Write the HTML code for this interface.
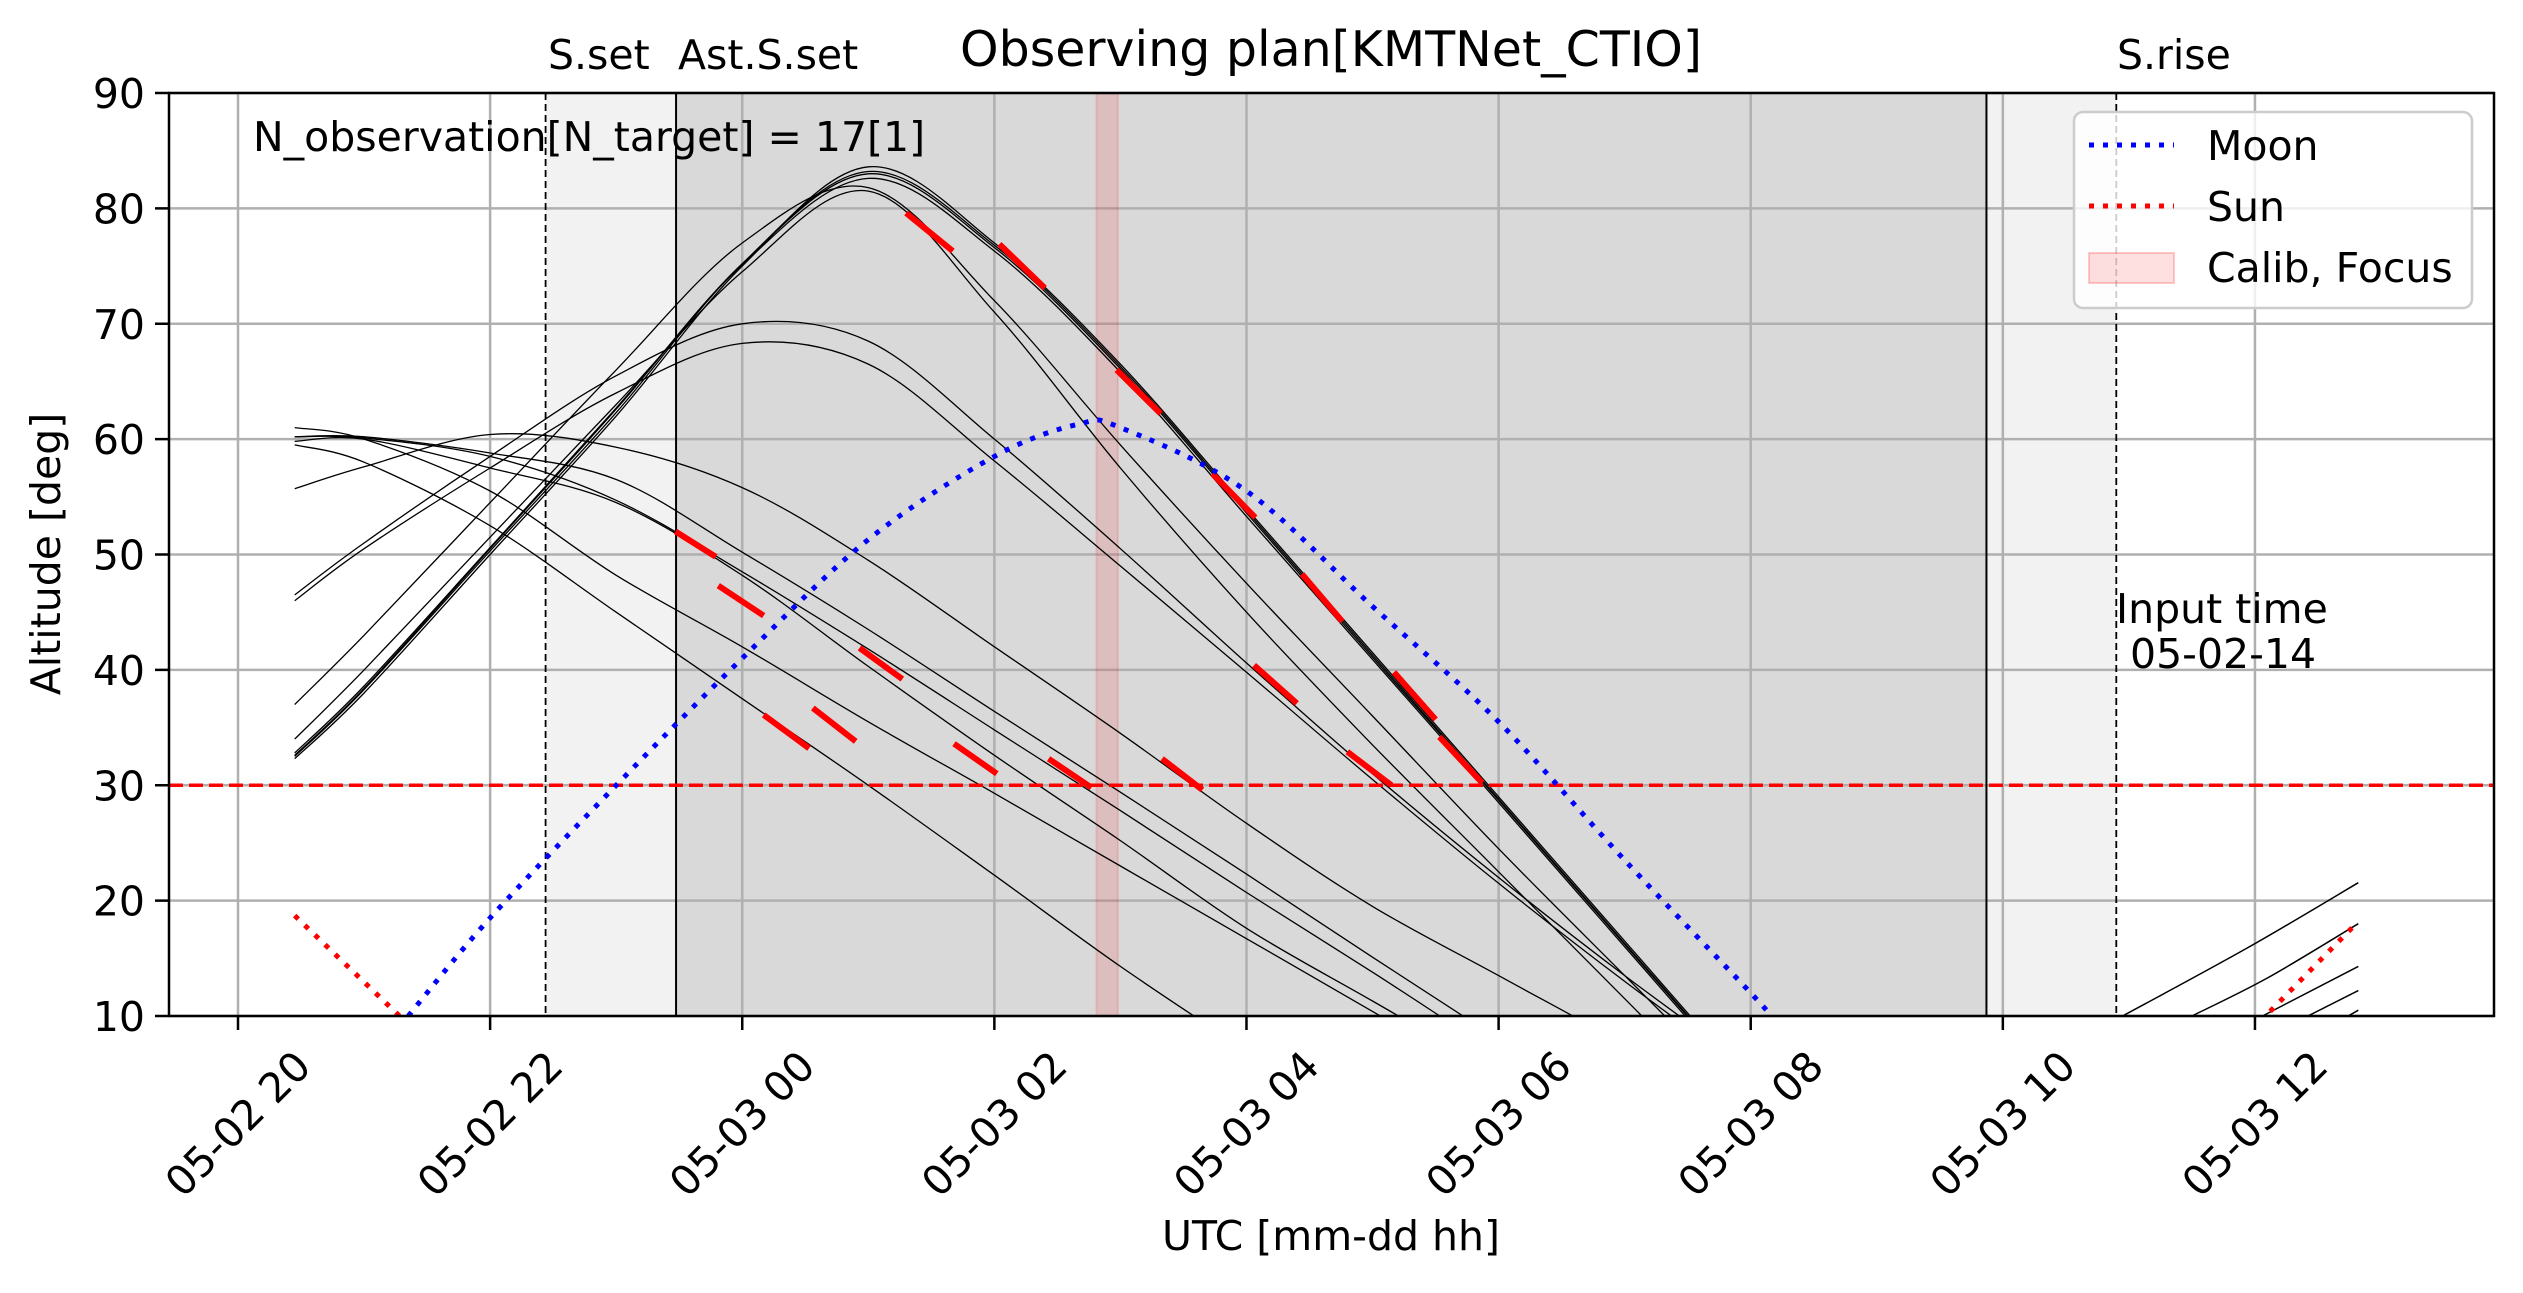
<!DOCTYPE html>
<html><head><meta charset="utf-8"><style>
html,body{margin:0;padding:0;background:#fff;width:2523px;height:1293px;overflow:hidden}
svg{display:block}
text{font-family:"DejaVu Sans","Liberation Sans",sans-serif;fill:#000}
</style></head><body>
<svg id="chart" width="2523" height="1293" viewBox="0 0 2523 1293" xmlns="http://www.w3.org/2000/svg">
<defs><clipPath id="plotclip"><rect x="169" y="93" width="2325" height="923"/></clipPath></defs>
<rect x="0" y="0" width="2523" height="1293" fill="#fff"/>
<g id="shade"></g>
<g id="grid"></g>
<g id="marks" clip-path="url(#plotclip)"></g>
<rect x="169" y="93" width="2325" height="923" fill="none" stroke="#000" stroke-width="2.5"/>
<g id="ticks"></g>
<text x="1331" y="66" font-size="49" text-anchor="middle">Observing plan[KMTNet_CTIO]</text>
<text x="548" y="69" font-size="41">S.set</text>
<text x="678" y="69" font-size="41">Ast.S.set</text>
<text x="2117" y="69" font-size="41">S.rise</text>
<text x="253" y="151" font-size="41">N_observation[N_target] = 17[1]</text>
<text x="2116" y="623" font-size="41">Input time</text>
<text x="2130" y="668" font-size="41">05-02-14</text>
<text x="0" y="0" font-size="41" text-anchor="middle" transform="translate(60,554) rotate(-90)">Altitude [deg]</text>
<text x="1331" y="1250" font-size="41" text-anchor="middle">UTC [mm-dd hh]</text>
<g>
<rect x="2074" y="112" width="398" height="196" rx="9" fill="#fff" fill-opacity="0.8" stroke="#cccccc" stroke-width="2.5"/>
<line x1="2089" y1="145" x2="2174" y2="145" stroke="#0000ff" stroke-width="5" stroke-dasharray="5 9"/>
<text x="2207" y="160" font-size="41">Moon</text>
<line x1="2089" y1="206" x2="2174" y2="206" stroke="#ff0000" stroke-width="5" stroke-dasharray="5 9"/>
<text x="2207" y="221" font-size="41">Sun</text>
<rect x="2089" y="253" width="85" height="30" fill="#ff0000" fill-opacity="0.12" stroke="#ff0000" stroke-opacity="0.2" stroke-width="2"/>
<text x="2207" y="282" font-size="41">Calib, Focus</text>
</g>
</svg>
<script>
// ---- data (hours since 05-02 00 UTC, altitude in deg) ----
const xTickHours = [20,22,24,26,28,30,32,34,36];
const xTickLabels = ["05-02 20","05-02 22","05-03 00","05-03 02","05-03 04","05-03 06","05-03 08","05-03 10","05-03 12"];
const yTicks = [10,20,30,40,50,60,70,80,90];
const sunSet = 22.44, astSunSet = 23.475, astSunRise = 33.87, sunRise = 34.9;
const calibStart = 26.81, calibEnd = 26.98;
const altLimit = 30;
const targetTimes = [20.45,21,22,23,24,25,26,27,28,29,30,31,32];
const targetA1 = [32.3,38,50,62,75,83.6,77,66.5,54,41.5,29,16.5,4];
const targetA2 = [32.5,38.3,50.3,62.3,75.2,83.2,76.8,66.3,53.8,41.3,28.8,16.3,3.8];
const targetA3 = [32.6,38.4,50.5,62.6,75.2,83,76.6,66.1,53.6,41.1,28.7,16.2,3.7];
const targetA4 = [32.8,38.6,50.6,62.7,75.1,82.6,76.3,65.8,53.3,40.9,28.5,16,3.5];
const targetB1 = [37,43,54.5,66,77,81.8,72,59.5,47.5,36,24.5,13.5,2.5];
const targetB2 = [34,40,51.5,63,74.5,81.5,71,57.5,45,33.5,22.5,11.5,0.5];
const targetC1 = [46.5,51,58.5,65.5,70,68.5,60,50.5,40.6,31,22,13.5,5.5];
const targetC2 = [46,50.5,57.5,64,68.3,66.5,58.1,49,39.8,30.5,21.5,13,5];
const targetD1 = [60.2,60.2,58.8,56.5,50.2,43.5,36.4,29.4,22.3,15.1,8,1,-6];
const targetD2 = [60.2,60.1,58.5,54.7,48.5,41.8,34.8,27.8,20.7,13.8,6.7,0,-7];
const targetD3 = [59.8,60,57.5,54.5,48.2,40.3,32.6,25.2,17.6,11.3,5,-1,-7];
const targetD4 = [61,60,55.5,48.2,42,35.5,29.3,23,16.7,10.4,4,-2,-8];
const targetD5 = [59.5,58,52.5,45,37.5,30,22.2,14.3,7,0,-7,-14,-21];
const targetD6 = [55.7,57.6,60.4,59.3,55.8,49.5,42,34.5,26.7,19.5,13.5,7.5,1];
const nextTimesR1 = [34.95,35.94,36.82], nextAltR1 = [10,15.9,21.55];
const nextTimesR2 = [35.5,36.1,36.82], nextAltR2 = [10,13.3,18];
const nextTimesR3 = [36.06,36.82], nextAltR3 = [10,14.3];
const nextTimesR4 = [36.42,36.82], nextAltR4 = [10,12.2];
const nextTimesR5 = [36.74,36.82], nextAltR5 = [10,10.5];
const moonTimes = [21.35,22,23,24,25,26,26.67,27,28,29,30,31,32,32.2];
const moonAlt = [10,18.5,30,41,51.3,58.5,61.3,61,55.5,45.5,35.5,23.5,12,9.5];
const sunTimes1 = [20.45,21.3], sunAlt1 = [18.7,9.8];
const sunTimes2 = [36.12,36.82], sunAlt2 = [10.4,18.2];
const obsStartT = [23.47,23.81,24.17,24.56,24.93,25.3,25.68,26.04,26.43,26.97,27.33,27.73,28.06,28.44,28.8,29.17,29.53];
const obsStartAlt = [52,47.3,36.1,36.7,41.9,79.6,33.6,76.9,32.3,66,32.3,57,40.4,48.3,32.9,39.8,34.2];
const obsEndT = [23.79,24.17,24.53,24.9,25.27,25.67,26.02,26.4,26.77,27.32,27.65,28.07,28.4,28.76,29.15,29.5,29.87];
const obsEndAlt = [49.8,44.7,33.2,33.8,39.2,76.3,31,73.1,29.8,62.2,29.6,53.2,37.1,44.2,30,35.7,30.2];

// ---- axes ----
const X0 = 169, X1 = 2494, Y0 = 93, Y1 = 1016;
function xs(t){ return 238 + (t - 20) * 126.06; }
function ys(a){ return 1016 - (a - 10) * 11.5375; }
const NS = 'http://www.w3.org/2000/svg';
function mk(tag, attrs, parent){ const e = document.createElementNS(NS, tag); for (const k in attrs) e.setAttribute(k, attrs[k]); parent.appendChild(e); return e; }
function smooth(ts, as){
  const p = ts.map((t,i)=>[xs(t), ys(as[i])]);
  if (p.length < 3) return 'M' + p.map(q=>q[0].toFixed(1)+','+q[1].toFixed(1)).join(' L');
  let d = 'M' + p[0][0].toFixed(1) + ',' + p[0][1].toFixed(1);
  for (let i = 0; i < p.length - 1; i++){
    const a = p[Math.max(i-1,0)], b = p[i], c = p[i+1], e = p[Math.min(i+2,p.length-1)];
    const c1 = [b[0]+(c[0]-a[0])/6, b[1]+(c[1]-a[1])/6];
    const c2 = [c[0]-(e[0]-b[0])/6, c[1]-(e[1]-b[1])/6];
    d += ' C' + c1.map(v=>v.toFixed(1)).join(',') + ' ' + c2.map(v=>v.toFixed(1)).join(',') + ' ' + c.map(v=>v.toFixed(1)).join(',');
  }
  return d;
}
const shade = document.getElementById('shade');
const grid = document.getElementById('grid');
const marks = document.getElementById('marks');
const ticks = document.getElementById('ticks');

let r = mk('rect', {x:xs(sunSet), y:Y0, width:xs(sunRise)-xs(sunSet), height:Y1-Y0, fill:'#f2f2f2'}, shade);


r = mk('rect', {x:xs(astSunSet), y:Y0, width:xs(astSunRise)-xs(astSunSet), height:Y1-Y0, fill:'#d9d9d9'}, shade);



xTickHours.forEach((h,i)=>{
  const x = xs(h);
  let g = mk('line', {x1:x, y1:Y0, x2:x, y2:Y1, stroke:'#b0b0b0', 'stroke-width':2.5}, grid);
  
  
  let tk = mk('line', {x1:x, y1:Y1, x2:x, y2:Y1+14, stroke:'#000', 'stroke-width':2.5}, ticks);
  
  
  let tx = mk('text', {x:x, y:1124, 'font-size':41, 'text-anchor':'middle', 'dominant-baseline':'central', transform:'rotate(-45 '+x+' 1124)'}, ticks);
  tx.textContent = xTickLabels[i];
  
  
});
yTicks.forEach(v=>{
  const y = ys(v);
  let g = mk('line', {x1:X0, y1:y, x2:X1, y2:y, stroke:'#b0b0b0', 'stroke-width':2.5}, grid);
  
  
  let tk = mk('line', {x1:X0-14, y1:y, x2:X0, y2:y, stroke:'#000', 'stroke-width':2.5}, ticks);
  
  
  let tx = mk('text', {x:X0-24, y:y+15, 'font-size':41, 'text-anchor':'end'}, ticks);
  tx.textContent = v;
  
  
});

let c = mk('rect', {x:xs(calibStart), y:Y0, width:xs(calibEnd)-xs(calibStart), height:Y1-Y0, fill:'#ff0000', 'fill-opacity':0.12, stroke:'#ff0000', 'stroke-opacity':0.12, 'stroke-width':2}, marks);



let v = mk('line', {x1:xs(sunSet), y1:Y0, x2:xs(sunSet), y2:Y1, stroke:'#000', 'stroke-width':1.8, 'stroke-dasharray':'7 4'}, marks);


v = mk('line', {x1:xs(sunRise), y1:Y0, x2:xs(sunRise), y2:Y1, stroke:'#000', 'stroke-width':1.8, 'stroke-dasharray':'7 4'}, marks);


v = mk('line', {x1:xs(astSunSet), y1:Y0, x2:xs(astSunSet), y2:Y1, stroke:'#000', 'stroke-width':2}, marks);


v = mk('line', {x1:xs(astSunRise), y1:Y0, x2:xs(astSunRise), y2:Y1, stroke:'#000', 'stroke-width':2}, marks);



const targets = [targetA1,targetA2,targetA3,targetA4,targetB1,targetB2,targetC1,targetC2,targetD1,targetD2,targetD3,targetD4,targetD5,targetD6];
targets.forEach(arr=>{
  const p = mk('path', {d:smooth(targetTimes, arr), fill:'none', stroke:'#000', 'stroke-width':1.3}, marks);
  
  
});
[[nextTimesR1,nextAltR1],[nextTimesR2,nextAltR2],[nextTimesR3,nextAltR3],[nextTimesR4,nextAltR4],[nextTimesR5,nextAltR5]].forEach(pair=>{
  const p = mk('path', {d:smooth(pair[0], pair[1]), fill:'none', stroke:'#000', 'stroke-width':1.5}, marks);
  
  
});

let lim = mk('line', {x1:X0, y1:ys(altLimit), x2:X1, y2:ys(altLimit), stroke:'#ff0000', 'stroke-width':3.5, 'stroke-dasharray':'14 6'}, marks);



obsStartT.forEach((t,i)=>{
  const s = mk('line', {x1:xs(t), y1:ys(obsStartAlt[i]), x2:xs(obsEndT[i]), y2:ys(obsEndAlt[i]), stroke:'#ff0000', 'stroke-width':6}, marks);
  
  
});

let m = mk('path', {d:smooth(moonTimes, moonAlt), fill:'none', stroke:'#0000ff', 'stroke-width':5, 'stroke-dasharray':'5 9'}, marks);


let s1 = mk('path', {d:smooth(sunTimes1, sunAlt1), fill:'none', stroke:'#ff0000', 'stroke-width':5, 'stroke-dasharray':'5 9'}, marks);


let s2 = mk('path', {d:smooth(sunTimes2, sunAlt2), fill:'none', stroke:'#ff0000', 'stroke-width':5, 'stroke-dasharray':'5 9'}, marks);


</script>
</body></html>
